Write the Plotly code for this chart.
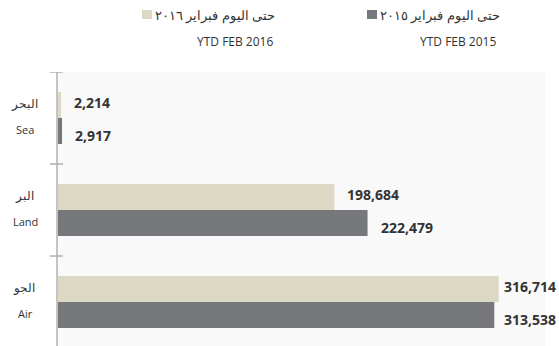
import plotly.graph_objects as go

# Cargo volumes by mode of transport (year to date, February)
categories_en = ["Air", "Land", "Sea"]
categories_ar = ["الجو", "البر", "البحر"]
values_2015 = [313538, 222479, 2917]
values_2016 = [316714, 198684, 2214]
series_ar = ["حتى اليوم فبراير ٢٠١٥", "حتى اليوم فبراير ٢٠١٦"]
series_en = ["YTD FEB 2015", "YTD FEB 2016"]

GRAY = "#77787c"
BEIGE = "#ddd8c3"
TEXT = "#333333"
LABEL_FONT = "Open Sans"

W, H = 559, 346
ML, MR, MT, MB = 58, 14, 72, 0
PW, PH = W - ML - MR, H - MT - MB
X_MAX = 350000


def px(x):
    """page pixel column -> paper x"""
    return (x - ML) / PW


def py(y):
    """page pixel row -> paper y"""
    return (H - MB - y) / PH


fig = go.Figure()
series = [(values_2015, GRAY, series_en[0], -17), (values_2016, BEIGE, series_en[1], 16)]
for vals, color, name, _ in series:
    fig.add_trace(go.Bar(
        y=categories_en, x=vals, orientation="h", name=name,
        marker=dict(color=color, line=dict(width=0)),
        showlegend=False, hoverinfo="x+y",
    ))

# value labels just past the bar ends, kept inside the page on the right
LABEL_W = 55
for vals, color, name, yshift in series:
    for cat, v in zip(categories_en, vals):
        bar_end = ML + v / X_MAX * PW
        shift = min(11, W - 2 - LABEL_W - bar_end)
        fig.add_annotation(x=v, y=cat, xref="x", yref="y", text=f"<b>{v:,}</b>",
                           showarrow=False, xanchor="left", yanchor="middle",
                           xshift=shift, yshift=yshift,
                           font=dict(family=LABEL_FONT, size=14, color=TEXT))

n = len(categories_en)
fig.update_layout(
    width=W, height=H,
    margin=dict(l=ML, r=MR, t=MT, b=MB),
    paper_bgcolor="white", plot_bgcolor="#f9f9f9",
    barmode="group", bargap=0.435, bargroupgap=0,
    xaxis=dict(range=[0, X_MAX], visible=False, fixedrange=True),
    yaxis=dict(
        type="category", categoryarray=categories_en,
        range=[-0.478, n - 0.5],
        showticklabels=False, showgrid=False, zeroline=False,
        showline=True, linecolor="#c4c4c4", linewidth=2, ticks="",
    ),
    font=dict(family=LABEL_FONT, color=TEXT),
)

# tick marks across the axis line at category boundaries
for k in range(n + 1):
    fig.add_shape(type="line", xref="paper", yref="y",
                  x0=px(50), x1=px(63), y0=k - 0.5, y1=k - 0.5,
                  line=dict(color="#b0b0b0", width=1.5))

# bilingual category labels
for cat_en, cat_ar in zip(categories_en, categories_ar):
    fig.add_annotation(x=px(24), xref="paper", y=cat_en, yref="y", text=cat_ar,
                       showarrow=False, yshift=15, xanchor="center",
                       font=dict(family="Noto Sans", size=12, color=TEXT))
    fig.add_annotation(x=px(25), xref="paper", y=cat_en, yref="y", text=cat_en,
                       showarrow=False, yshift=-11, xanchor="center",
                       font=dict(family="Open Sans", size=11, color=TEXT))

# legend: swatch, Arabic name, English name below
legend_items = [(GRAY, series_ar[0], series_en[0], 502, 498, 367),
                (BEIGE, series_ar[1], series_en[1], 277, 275, 142)]
for color, ar, en, ar_right, en_right, sw_left in legend_items:
    fig.add_annotation(x=px(ar_right), xref="paper", y=py(15), yref="paper",
                       xanchor="right", yanchor="middle", text=ar, showarrow=False,
                       font=dict(family="Noto Sans", size=13, color=TEXT))
    fig.add_annotation(x=px(en_right), xref="paper", y=py(41), yref="paper",
                       xanchor="right", yanchor="middle", text=en, showarrow=False,
                       font=dict(family="Open Sans", size=12, color=TEXT))
    fig.add_shape(type="rect", xref="paper", yref="paper",
                  x0=px(sw_left), x1=px(sw_left + 10), y0=py(19), y1=py(10),
                  line=dict(width=0), fillcolor=color)

fig.write_html("out.html")
